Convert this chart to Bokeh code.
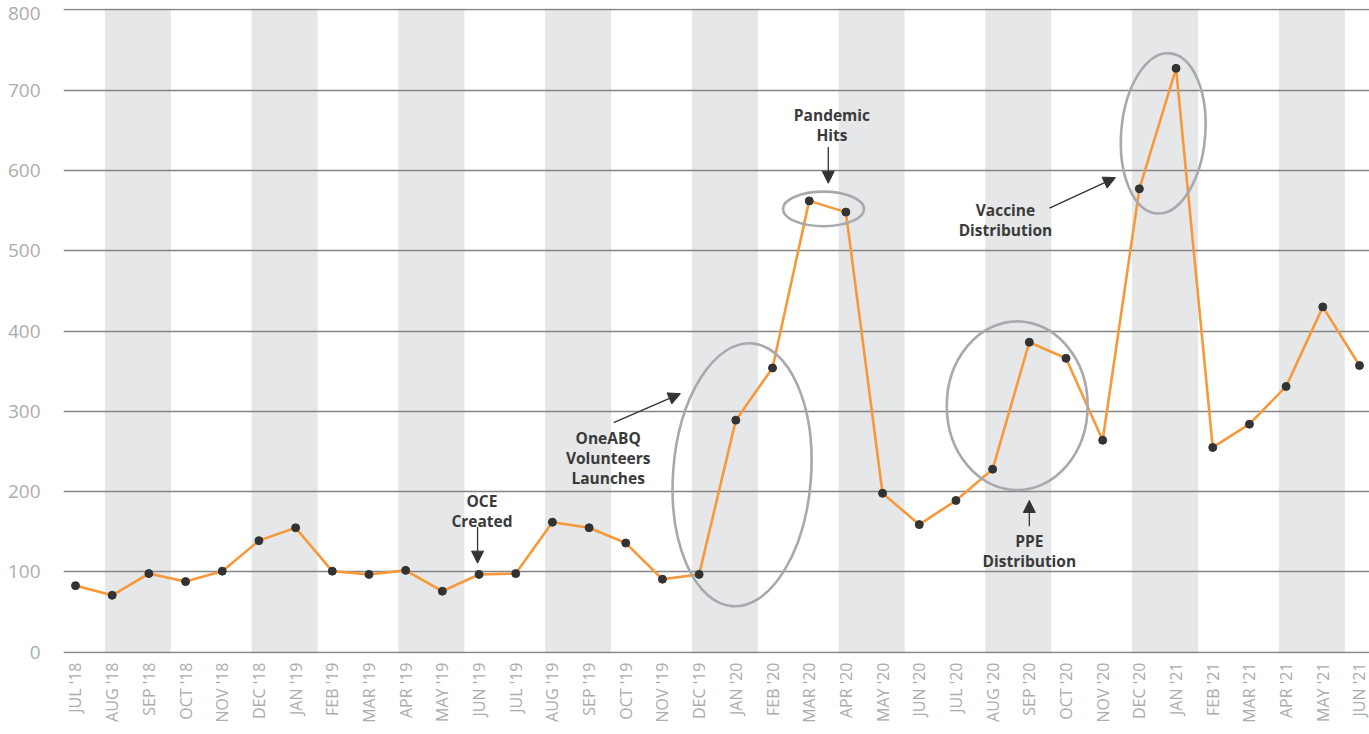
import math
from bokeh.plotting import figure
from bokeh.models import Range1d, FixedTicker, Arrow, NormalHead
from bokeh.core.properties import value
from bokeh.embed import file_html
from bokeh.resources import INLINE

# ---------------- data ----------------
months = ["JUL '18", "AUG '18", "SEP '18", "OCT '18", "NOV '18", "DEC '18",
          "JAN '19", "FEB '19", "MAR '19", "APR '19", "MAY '19", "JUN '19",
          "JUL '19", "AUG '19", "SEP '19", "OCT '19", "NOV '19", "DEC '19",
          "JAN '20", "FEB '20", "MAR '20", "APR '20", "MAY '20", "JUN '20",
          "JUL '20", "AUG '20", "SEP '20", "OCT '20", "NOV '20", "DEC '20",
          "JAN '21", "FEB '21", "MAR '21", "APR '21", "MAY '21", "JUN '21"]
counts = [83, 71, 98, 88, 101, 139,
          155, 101, 97, 102, 76, 97,
          98, 162, 155, 136, 91, 97,
          289, 354, 562, 548, 198, 159,
          189, 228, 386, 366, 264, 577,
          727, 255, 284, 331, 430, 357]
y_ticks = [0, 100, 200, 300, 400, 500, 600, 700, 800]

# shaded month pairs (first month of each pair)
shaded_pairs = ["AUG '18", "DEC '18", "APR '19", "AUG '19", "DEC '19",
                "APR '20", "AUG '20", "DEC '20", "APR '21"]

# annotations (x in month-index units, y in value units)
note_text = ["OCE\nCreated", "OneABQ\nVolunteers\nLaunches", "Pandemic\nHits",
             "PPE\nDistribution", "Vaccine\nDistribution"]
note_x = [11.08, 14.52, 20.62, 26.0, 25.35]
note_y = [176, 242, 656, 126, 538]

arrow_x0 = [10.96, 14.67, 20.52, 26.0, 26.55]
arrow_y0 = [156, 286, 629, 157, 553]
arrow_x1 = [10.96, 16.49, 20.52, 26.0, 28.35]
arrow_y1 = [111, 322, 584, 189, 591]

ell_x = [18.17, 20.39, 25.67, 29.65]
ell_y = [221, 552, 307, 646]
ell_w = [3.76, 2.21, 3.84, 2.29]
ell_h = [328, 43, 210, 200]
ell_angle = [-0.075, 0.0, 0.0, -0.083]

# ---------------- figure ----------------
idx = list(range(len(months)))

p = figure(width=1369, height=734,
           x_range=Range1d(-0.327, 35.273), y_range=Range1d(-1.5, 801.5),
           min_border_left=63, min_border_right=0, min_border_top=8, min_border_bottom=81,
           output_backend="svg", toolbar_location=None)
p.outline_line_color = None
p.background_fill_color = "white"
p.border_fill_color = "white"

# shaded bands
b_left = [months.index(m) - 0.2 for m in shaded_pairs]
b_right = [l + 1.8 for l in b_left]
bands = p.quad(left=b_left, right=b_right, bottom=-1.5, top=801.5,
               fill_color="#e6e7e8", line_color=None)
bands.level = "image"

# grid
p.xgrid.visible = False
p.ygrid.ticker = FixedTicker(ticks=y_ticks)
p.ygrid.grid_line_color = "#858585"
p.ygrid.grid_line_width = 1.3

# axes (top label nudged slightly below its gridline so it stays inside the page)
label_pos = y_ticks[:-1] + [y_ticks[-1] - 5]
p.yaxis.ticker = FixedTicker(ticks=label_pos)
p.yaxis.major_label_overrides = {float(pos): str(t) for pos, t in zip(label_pos, y_ticks)}
p.xaxis.ticker = FixedTicker(ticks=idx)
p.xaxis.major_label_overrides = {i: m for i, m in enumerate(months)}
p.xaxis.major_label_orientation = math.pi / 2
for ax in (p.xaxis[0], p.yaxis[0]):
    ax.axis_line_color = None
    ax.major_tick_line_color = None
    ax.minor_tick_line_color = None
    ax.major_tick_out = 0
    ax.major_tick_in = 0
    ax.major_label_text_color = "#acacac"
    ax.major_label_text_font = "Open Sans"
p.yaxis.major_label_text_font_size = "19px"
p.yaxis.major_label_standoff = 23
p.xaxis.major_label_text_font_size = "16px"
p.xaxis.major_label_standoff = 9

# series
p.line(idx, counts, line_color="#f7993b", line_width=2.6)
p.scatter(idx, counts, size=8, fill_color="#333333", line_color="#333333")

# ellipses
p.ellipse(x=ell_x, y=ell_y, width=ell_w, height=ell_h, angle=ell_angle,
          fill_alpha=0, line_color="#a7a9ac", line_width=2.6)

# arrows
for xs, ys, xe, ye in zip(arrow_x0, arrow_y0, arrow_x1, arrow_y1):
    p.add_layout(Arrow(end=NormalHead(size=12, fill_color="#333333", line_color="#333333"),
                       x_start=xs, y_start=ys, x_end=xe, y_end=ye,
                       line_color="#333333", line_width=1.3))

# notes
p.text(x=note_x, y=note_y, text=note_text,
       text_font=value("Open Sans"), text_font_style="bold",
       text_font_size="15.5px", text_color="#3a3a3a",
       text_align="center", text_baseline="middle", text_line_height=0.9)

open("out.html", "w").write(file_html(p, INLINE))
